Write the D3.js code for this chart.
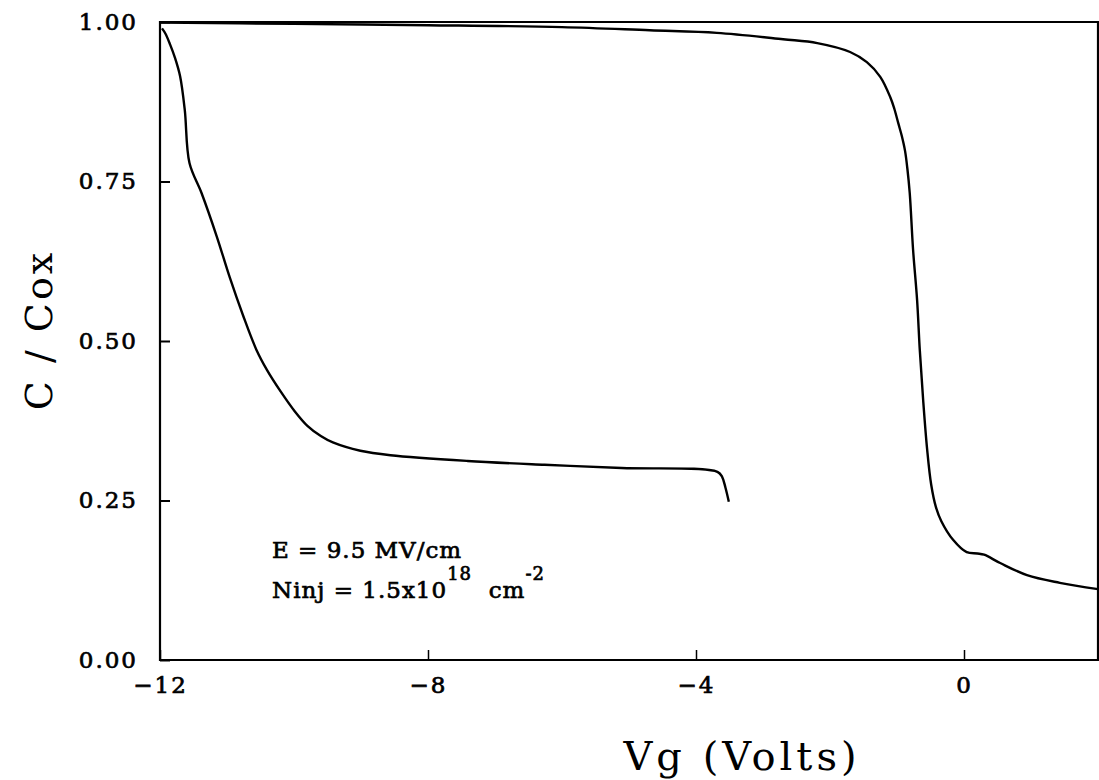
<!DOCTYPE html>
<html>
<head>
<meta charset="utf-8">
<script src="https://cdn.jsdelivr.net/npm/d3@7"></script>
<style>
  html, body { margin: 0; padding: 0; background: #fff; }
  svg { display: block; }
  text { font-family: "DejaVu Serif", "Liberation Serif", serif; fill: #000; }
  .heavy { stroke: #000; stroke-width: 0.7px; paint-order: stroke; }
</style>
</head>
<body>
<svg id="chart" width="1099" height="780"></svg>
<script>
// ---- data ----
const xTicks = [-12, -8, -4, 0];
const yTicks = [0, 0.25, 0.5, 0.75, 1.0];

// curve after injection (shifted)
const vgA = [-11.97, -11.92, -11.85, -11.78, -11.70, -11.63, -11.56, -11.38, -11.15, -10.96, -10.76, -10.56, -10.40, -10.20, -9.99, -9.80, -9.60, -9.42, -9.01, -8.56, -7.41, -6.26, -5.11, -3.68, -3.61, -3.56, -3.51];
const cA  = [0.990, 0.982, 0.965, 0.945, 0.915, 0.862, 0.779, 0.732, 0.663, 0.600, 0.540, 0.486, 0.454, 0.421, 0.390, 0.367, 0.351, 0.341, 0.328, 0.321, 0.312, 0.306, 0.301, 0.295, 0.287, 0.270, 0.248];

// curve before injection
const vgB = [-12, -10, -8, -6, -4.69, -3.69, -2.70, -2.19, -1.70, -1.45, -1.25, -1.10, -1.04, -0.98, -0.93, -0.88, -0.845, -0.81, -0.76, -0.70, -0.66, -0.61, -0.55, -0.49, -0.42, -0.34, -0.16, 0.04, 0.20, 0.30, 0.54, 0.94, 1.43, 2.0];
const cB  = [0.999, 0.997, 0.995, 0.992, 0.987, 0.983, 0.973, 0.967, 0.953, 0.937, 0.914, 0.882, 0.864, 0.841, 0.822, 0.798, 0.770, 0.732, 0.643, 0.564, 0.486, 0.408, 0.330, 0.275, 0.240, 0.218, 0.188, 0.169, 0.167, 0.165, 0.152, 0.133, 0.121, 0.111];

const xTitle = "Vg (Volts)";
const yTitle = "C / Cox";

// ---- layout ----
const svg = d3.select("#chart");
const L = 160, R = 1098, T = 22, B = 660;
const x = d3.scaleLinear().domain([-12, 2]).range([L, R]);
const y = d3.scaleLinear().domain([0, 1]).range([B, T]);

// x axis
const xAxis = svg.append("g").attr("transform", `translate(0,${B})`)
  .call(d3.axisBottom(x).tickValues(xTicks).tickSizeInner(-10).tickSizeOuter(0).tickPadding(17).tickFormat(d3.format("d")));
xAxis.select(".domain").remove();
xAxis.selectAll(".tick line").attr("stroke", "#000").attr("stroke-width", 1.5);
xAxis.selectAll(".tick text").attr("class", "heavy").style("font-size", "23px").style("letter-spacing", "2px").attr("fill", "#000");

// y axis
const yAxis = svg.append("g").attr("transform", `translate(${L},0)`)
  .call(d3.axisLeft(y).tickValues(yTicks).tickSizeInner(-10).tickSizeOuter(0).tickPadding(22).tickFormat(d3.format(".2f")));
yAxis.select(".domain").remove();
yAxis.selectAll(".tick line").attr("stroke", "#000").attr("stroke-width", 2);
yAxis.selectAll(".tick text").attr("class", "heavy").style("font-size", "23px").style("letter-spacing", "2px").attr("fill", "#000");

// frame
svg.append("path")
  .attr("d", `M${L},${T}V${B}H${R}V${T}Z`)
  .attr("fill", "none").attr("stroke", "#000").attr("stroke-width", 2.2);

// curves
const line = d3.line().x(d => x(d[0])).y(d => y(d[1])).curve(d3.curveCatmullRom.alpha(0.5));
svg.append("path").datum(vgA.map((v, i) => [v, cA[i]]))
  .attr("d", line).attr("fill", "none").attr("stroke", "#000").attr("stroke-width", 2.4);
svg.append("path").datum(vgB.map((v, i) => [v, cB[i]]))
  .attr("d", line).attr("fill", "none").attr("stroke", "#000").attr("stroke-width", 2.4);

// titles
svg.append("text").attr("x", 742).attr("y", 770).attr("text-anchor", "middle")
  .style("font-size", "40px").style("letter-spacing", "4px").text(xTitle);
svg.append("text").attr("transform", "translate(52,330) rotate(-90)").attr("text-anchor", "middle")
  .style("font-size", "38px").style("letter-spacing", "3px").text(yTitle);

// annotation
const ann = svg.append("g").attr("class", "heavy").style("font-size", "23px").style("letter-spacing", "1px");
ann.append("text").attr("class", "heavy").attr("x", 272).attr("y", 558).attr("xml:space", "preserve").text("E = 9.5 MV/cm");
const t2 = ann.append("text").attr("class", "heavy").attr("x", 272).attr("y", 598).attr("xml:space", "preserve");
t2.append("tspan").text("Ninj = 1.5x10");
t2.append("tspan").attr("dy", -18).style("font-size", "18px").text("18");
t2.append("tspan").attr("dy", 18).text("  cm");
t2.append("tspan").attr("dy", -18).style("font-size", "18px").text("-2");
</script>
</body>
</html>
